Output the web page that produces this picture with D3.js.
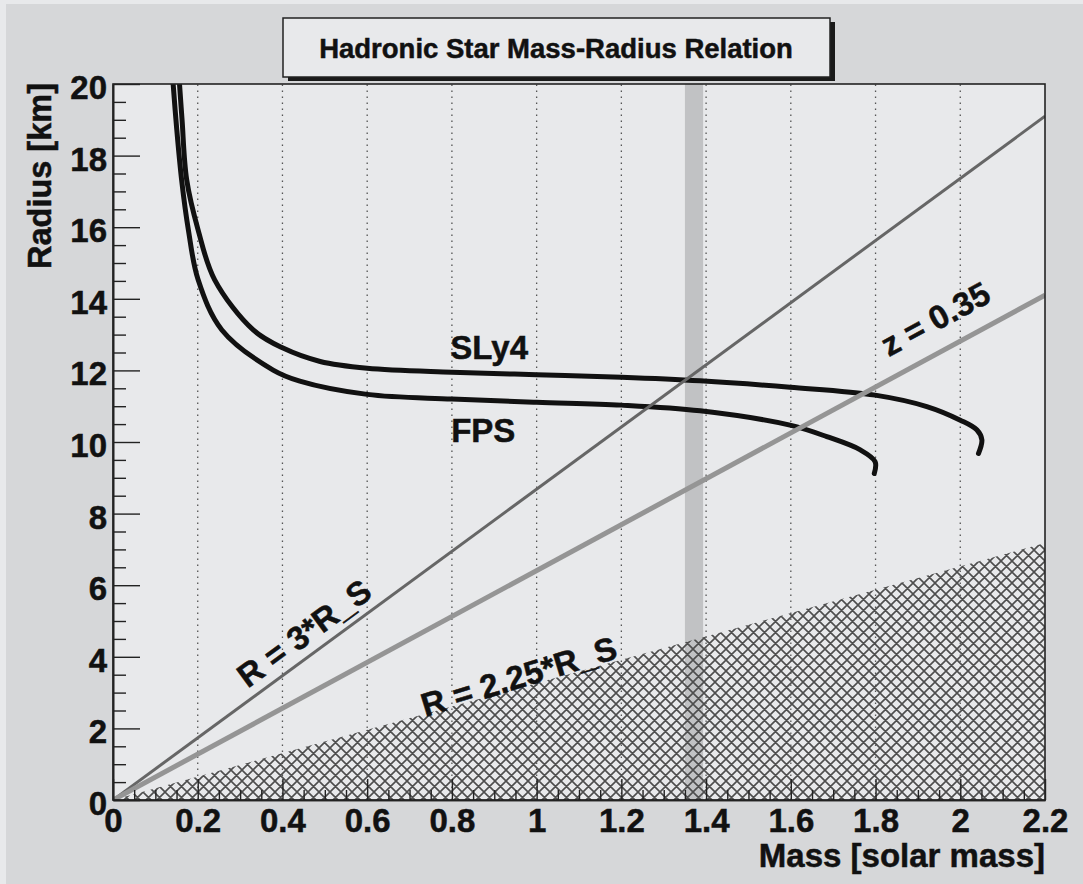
<!DOCTYPE html>
<html><head><meta charset="utf-8">
<script src="https://cdn.jsdelivr.net/npm/d3@7"></script>
<style>html,body{margin:0;padding:0;background:#d6d7d9;}svg{display:block;font-family:"Liberation Sans",Arial,sans-serif;font-weight:bold;}svg text{stroke:#111;stroke-width:0.5px;}</style>
</head><body><svg id="c" width="1083" height="884"></svg>
<script>
// ---- data ----
const title = "Hadronic Star Mass-Radius Relation";
const xLabel = "Mass [solar mass]";
const yLabel = "Radius [km]";
const xMajorTicks = [0,0.2,0.4,0.6,0.8,1,1.2,1.4,1.6,1.8,2,2.2];
const xTickLabels = ["0","0.2","0.4","0.6","0.8","1","1.2","1.4","1.6","1.8","2","2.2"];
const yMajorTicks = [0,2,4,6,8,10,12,14,16,18,20];
const yTickLabels = ["0","2","4","6","8","10","12","14","16","18","20"];
const gridX = [0.2,0.4,0.6,0.8,1,1.2,1.4,1.6,1.8,2];
// mass (solar), radius (km)
const sly4M = [0.157,0.163,0.174,0.201,0.240,0.331,0.400,0.489,0.6,0.8,1.0,1.2,1.386,1.598,1.799,1.921,2.0,2.039,2.051,2.043];
const sly4R = [20,19,17.32,15.92,14.53,13.13,12.63,12.25,12.06,11.95,11.88,11.81,11.71,11.53,11.31,10.99,10.61,10.34,10.06,9.68];
const fpsM = [0.142,0.150,0.162,0.178,0.201,0.257,0.378,0.441,0.6,0.8,1.0,1.2,1.386,1.598,1.685,1.764,1.799,1.797];
const fpsR = [20,18.8,17.32,15.92,14.53,13.13,12.01,11.70,11.33,11.2,11.11,11.03,10.87,10.47,10.15,9.78,9.45,9.12];
const line3RsM = [0,2.2], line3RsR = [0,19.1];
const lineZM = [0,2.2], lineZR = [0,14.1];
const hatchM = [0,2.2,2.2], hatchR = [0,7.18,0];
const bandM = [1.350,1.393];
const curveLabels = [{t:"SLy4",m:0.888,r:12.32},{t:"FPS",m:0.874,r:10.01}];
const lineLabels = [
  {t:"R = 3*R_S", m:0.451, r:4.66, line:"dark"},
  {t:"R = 2.25*R_S", m:0.958, r:3.45, angle:-17},
  {t:"z = 0.35", m:1.941, r:13.44, line:"light"}
];

// ---- layout ----
const svg = d3.select("#c");
const W=1083,H=884;
const x = d3.scaleLinear().domain([0,2.2]).range([113,1045]);
const y = d3.scaleLinear().domain([0,20]).range([800,84]);
const plotBg="#e8e9eb";

svg.append("rect").attr("width",W).attr("height",H).attr("fill",plotBg);
svg.append("rect").attr("x",6).attr("y",4).attr("width",W-6).attr("height",H-4).attr("fill","#d6d7d9");
svg.append("rect").attr("x",x(0)).attr("y",y(20)).attr("width",x(2.2)-x(0)).attr("height",y(0)-y(20)).attr("fill",plotBg);

const defs = svg.append("defs");
defs.append("clipPath").attr("id","clip").append("rect").attr("x",x(0)).attr("y",y(20)).attr("width",x(2.2)-x(0)).attr("height",y(0)-y(20));
const pat = defs.append("pattern").attr("id","hatch").attr("patternUnits","userSpaceOnUse").attr("width",11).attr("height",11);
pat.append("path").attr("d","M-1,-1 L12,12 M-1,10 L1,12 M10,-1 L12,1 M12,-1 L-1,12 M-1,1 L1,-1 M10,12 L12,10").attr("stroke","#4e4e4e").attr("stroke-width",1.6);

const g = svg.append("g").attr("clip-path","url(#clip)");
// grid
g.selectAll("line.grid").data(gridX).join("line").attr("class","grid")
  .attr("x1",d=>x(d)).attr("x2",d=>x(d)).attr("y1",y(0)).attr("y2",y(20))
  .attr("stroke","#555").attr("stroke-width",1.3).attr("stroke-dasharray","1.5,4.5");
// band
g.append("rect").attr("x",x(bandM[0])).attr("width",x(bandM[1])-x(bandM[0])).attr("y",y(20)).attr("height",y(0)-y(20)).attr("fill","#c1c2c4");
// hatch
const area = d3.line().x(d=>x(d[0])).y(d=>y(d[1]));
g.append("path").attr("d",area(d3.zip(hatchM,hatchR))+"Z").attr("fill","url(#hatch)");
// curves
const cl = d3.line().x(d=>x(d[0])).y(d=>y(d[1])).curve(d3.curveCatmullRom.alpha(0.5));
[[sly4M,sly4R],[fpsM,fpsR]].forEach(([m,r])=>{
  g.append("path").attr("d",cl(d3.zip(m,r))).attr("fill","none").attr("stroke","#111").attr("stroke-width",5).attr("stroke-linecap","round");
});
// reference lines
g.append("path").attr("d",area(d3.zip(line3RsM,line3RsR))).attr("stroke","#666").attr("stroke-width",3).attr("fill","none");
g.append("path").attr("d",area(d3.zip(lineZM,lineZR))).attr("stroke","#959595").attr("stroke-width",5).attr("fill","none");

// frame
svg.append("rect").attr("x",x(0)).attr("y",y(20)).attr("width",x(2.2)-x(0)).attr("height",y(0)-y(20)).attr("fill","none").attr("stroke","#222").attr("stroke-width",1.6);

// axes
const fs=33;
const xMinor = d3.range(0,2.2001,0.05).filter(v=>Math.abs(v/0.2-Math.round(v/0.2))>1e-6);
const yMinor = d3.range(0,20.001,0.5).filter(v=>Math.abs(v/2-Math.round(v/2))>1e-6);
const ax = svg.append("g").attr("transform",`translate(0,${y(0)})`)
  .call(d3.axisBottom(x).tickValues(xMajorTicks).tickSize(-21).tickSizeOuter(0).tickPadding(9).tickFormat((d,i)=>xTickLabels[i]));
svg.append("g").attr("transform",`translate(0,${y(0)})`)
  .call(d3.axisBottom(x).tickValues(xMinor).tickSize(-10).tickSizeOuter(0).tickFormat(""));
const ay = svg.append("g").attr("transform",`translate(${x(0)},0)`)
  .call(d3.axisLeft(y).tickValues(yMajorTicks).tickSize(-27).tickSizeOuter(0).tickPadding(6).tickFormat((d,i)=>yTickLabels[i]));
svg.append("g").attr("transform",`translate(${x(0)},0)`)
  .call(d3.axisLeft(y).tickValues(yMinor).tickSize(-13).tickSizeOuter(0).tickFormat(""));
svg.selectAll(".domain").attr("stroke","#222").attr("stroke-width",1.6);
svg.selectAll(".tick line").attr("stroke","#222").attr("stroke-width",1.4);
svg.selectAll(".tick text").attr("font-size",fs).attr("font-family","Liberation Sans, Arial, sans-serif").attr("font-weight","bold").attr("fill","#111");
ay.selectAll(".tick text").attr("dy","0.44em");

// axis titles
svg.append("text").attr("x",x(2.2)).attr("y",867).attr("text-anchor","end").attr("font-size",33).attr("fill","#111").text(xLabel);
svg.append("text").attr("transform",`translate(51,${y(20)-1}) rotate(-90)`).attr("text-anchor","end").attr("font-size",32.5).attr("fill","#111").text(yLabel);

// title box
svg.append("rect").attr("x",288).attr("y",22).attr("width",547).attr("height",59).attr("fill","#1a1a1a");
svg.append("rect").attr("x",283).attr("y",18).attr("width",547).attr("height",59).attr("fill",plotBg).attr("stroke","#222").attr("stroke-width",1.5);
svg.append("text").attr("x",556).attr("y",58).attr("text-anchor","middle").attr("font-size",27.5).attr("fill","#111").text(title);

// curve labels
svg.selectAll("text.cl").data(curveLabels).join("text").attr("class","cl")
  .attr("x",d=>x(d.m)).attr("y",d=>y(d.r)).attr("text-anchor","middle").attr("font-size",33).attr("fill","#111").text(d=>d.t);

// rotated line labels
const slopeAngle = (mArr,rArr)=> Math.atan2(y(rArr[1])-y(rArr[0]), x(mArr[1])-x(mArr[0]))*180/Math.PI;
lineLabels.forEach(d=>{
  let a = d.angle;
  if(d.line==="dark") a = slopeAngle(line3RsM,line3RsR);
  if(d.line==="light") a = slopeAngle(lineZM,lineZR);
  svg.append("text").attr("transform",`translate(${x(d.m)},${y(d.r)}) rotate(${a})`)
    .attr("text-anchor","middle").attr("dominant-baseline","central").attr("font-size",33).attr("fill","#111").text(d.t);
});
</script></body></html>
